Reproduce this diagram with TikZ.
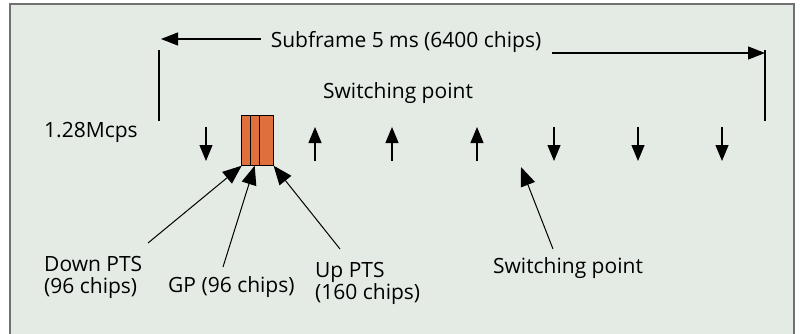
\documentclass[tikz,border=0pt]{standalone}
\usepackage{fontspec}
\setmainfont{Open Sans}
\usepackage{tikz}
\usetikzlibrary{positioning, arrows.meta}
\definecolor{panelbg}{HTML}{E4EBE5}
\definecolor{panelline}{HTML}{707070}
\definecolor{ptsorange}{HTML}{DF6F3D}

\begin{document}
\begin{tikzpicture}[x=1pt, y=-1pt,
  every node/.style={font=\fontsize{21}{22.5}\selectfont, inner sep=0pt},
  dimarrow/.style={-{Triangle[length=17pt, width=13pt]}, line width=1.2pt},
  slotarrow/.style={-{Triangle[length=16pt, width=13pt]}, line width=1.2pt},
  ptrarrow/.style={-{Triangle[length=19pt, width=15pt]}, line width=1pt},
  slot/.style={draw, line width=1pt, fill=ptsorange, outer sep=0pt, minimum height=50pt}]
        \useasboundingbox (0,0) rectangle (800,333);
        % Panel
        \draw[panelline, line width=1.5pt, fill=panelbg] (10,4) rectangle (794,345);
        
        % Subframe
        \node (frame) at (406,42) {Subframe 5 ms (6400 chips)};
        \coordinate (fl) at (161,39);
        \coordinate (fr) at (765,53);
        \draw[line width=1.2pt] (159,50) -- (159,121);
        \draw[line width=1.2pt] (765,50) -- (765,121);
        \draw[dimarrow] ([xshift=-10pt]frame.west |- fl) -- (fl);
        \draw[dimarrow] ([xshift=11pt]frame.east |- fr) -- (fr);
        
        % Labels
        \node (swtop) at (398,93) {Switching point};
        \node[anchor=west] (rate) at (44,132) {1.28Mcps};
        
        % Special slots
        \node[slot, minimum width=8.5pt, anchor=north west] (dpts) at (241.7,115.7) {};
        \node[slot, minimum width=9pt, right=0pt of dpts] (gp) {};
        \node[slot, minimum width=14.4pt, right=0pt of gp] (upts) {};
        
        % Switching arrows
        \foreach \x in {206, 554, 638, 722}
            \draw[slotarrow] (\x,127) -- (\x,161);
        \foreach \x in {315, 392, 477}
            \draw[slotarrow] (\x,161) -- (\x,127);
        
        % Slot labels
        \node[align=left, anchor=north west] (dplab) at (44,256) {Down PTS\\(96 chips)};
        \node[anchor=west] (gplab) at (168,287) {GP (96 chips)};
        \node[align=left, anchor=north west] (uplab) at (315,262) {Up PTS\\(160 chips)};
        \node (swbot) at (568,268) {Switching point};
        
        % Pointers
        \coordinate (dptail) at (148,243);
        \coordinate (gptail) at (223,267);
        \coordinate (uptail) at (340,249);
        \coordinate (swtail) at (553,249);
        \coordinate (swtip) at (521,167);
        \draw[ptrarrow] (dptail) -- (dpts.south west);
        \draw[ptrarrow] (gptail) -- (gp.south);
        \draw[ptrarrow] (uptail) -- (upts.south east);
        \draw[ptrarrow] (swtail) -- (swtip);
    \end{tikzpicture}
\end{document}
